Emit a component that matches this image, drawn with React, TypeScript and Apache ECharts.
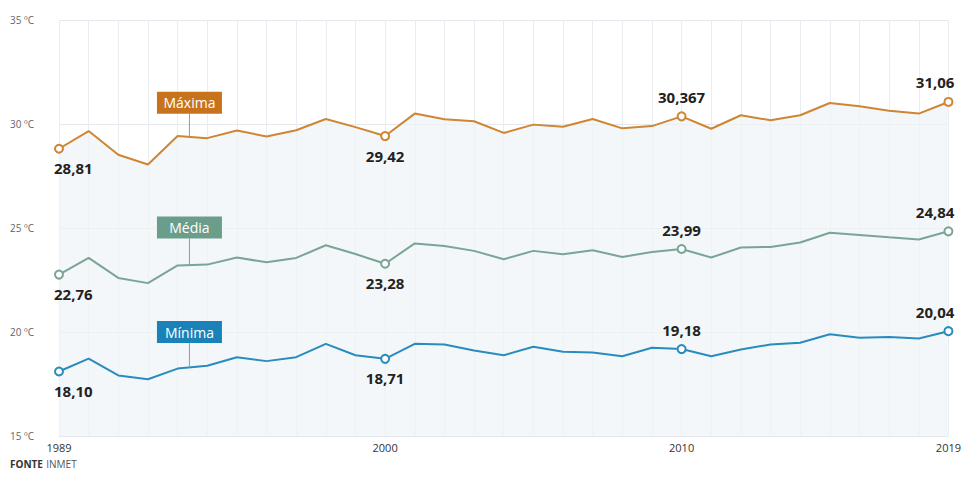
import React, { useEffect, useRef } from "react";
import * as echarts from "echarts";

const years = [
  1989, 1990, 1991, 1992, 1993, 1994, 1995, 1996, 1997, 1998, 1999, 2000, 2001, 2002, 2003, 2004,
  2005, 2006, 2007, 2008, 2009, 2010, 2011, 2012, 2013, 2014, 2015, 2016, 2017, 2018, 2019,
];
const maxima = [
  28.81, 29.66, 28.52, 28.05, 29.42, 29.32, 29.69, 29.4, 29.7, 30.24, 29.85, 29.42, 30.5, 30.23,
  30.13, 29.57, 29.97, 29.87, 30.24, 29.79, 29.9, 30.367, 29.77, 30.42, 30.18, 30.42, 31.01, 30.85,
  30.64, 30.5, 31.06,
];
const media = [
  22.76, 23.56, 22.6, 22.35, 23.2, 23.24, 23.58, 23.35, 23.56, 24.17, 23.75, 23.28, 24.26, 24.13,
  23.9, 23.5, 23.9, 23.74, 23.93, 23.61, 23.85, 23.99, 23.58, 24.06, 24.09, 24.3, 24.77, 24.66,
  24.55, 24.45, 24.84,
];
const minima = [
  18.1, 18.72, 17.91, 17.73, 18.24, 18.38, 18.79, 18.6, 18.79, 19.43, 18.88, 18.71, 19.43, 19.4,
  19.11, 18.88, 19.29, 19.05, 19.01, 18.83, 19.24, 19.18, 18.83, 19.16, 19.4, 19.48, 19.89, 19.72,
  19.76, 19.69, 20.04,
];
const highlightYears = [1989, 2000, 2010, 2019];
const maximaLabels = ["28,81", "29,42", "30,367", "31,06"];
const mediaLabels = ["22,76", "23,28", "23,99", "24,84"];
const minimaLabels = ["18,10", "18,71", "19,18", "20,04"];
const xTickLabels = [1989, 2000, 2010, 2019];
const yTicks = [15, 20, 25, 30, 35];
const seriesNames = ["Máxima", "Média", "Mínima"];
const seriesColors = ["#cf8531", "#7aa596", "#2a8bbf"];
const boxColors = ["#c8731c", "#6a9e8b", "#1a82b8"];
// annotation anchor (year position) and box bottom values
const tagYear = 1993.4;
const tagBottom = [30.49, 24.5, 19.47];

const FONT = "'Open Sans', 'Noto Sans', sans-serif";

function buildData(values: number[], labels: string[], color: string) {
  return years.map((y, i) => {
    const hi = highlightYears.indexOf(y);
    if (hi < 0) return { value: [y, values[i]], symbol: "none" };
    let position: any = "bottom";
    let align: any = "center";
    let offset = [0, 0];
    if (hi === 0) {
      align = "left";
      offset = [-5, 0];
    } else if (hi === 2) {
      position = "top";
    } else if (hi === 3) {
      position = "top";
      align = "right";
      offset = [6, 0];
    }
    return {
      value: [y, values[i]],
      symbol: "circle",
      symbolSize: 8,
      itemStyle: { color: "#ffffff", borderColor: color, borderWidth: 2 },
      label: {
        show: true,
        formatter: labels[hi],
        position,
        align,
        offset,
        distance: 7,
        color: "#222222",
        fontSize: 15,
        fontWeight: "bold",
        fontFamily: FONT,
      },
    };
  });
}

export default function App() {
  const ref = useRef<HTMLDivElement>(null);
  useEffect(() => {
    document.body.style.margin = "0";
    const chart = echarts.init(ref.current!, undefined, { renderer: "svg" });
    const allValues = [maxima, media, minima];
    const allLabels = [maximaLabels, mediaLabels, minimaLabels];
    chart.setOption({
      animation: false,
      backgroundColor: "#ffffff",
      grid: { left: 59, right: 8, top: 20, bottom: 59, containLabel: false },
      xAxis: {
        type: "value",
        min: 1989,
        max: 2019,
        interval: 1,
        axisLine: { show: false },
        axisTick: { show: false },
        splitLine: { show: true, lineStyle: { color: "#e9edf1", width: 1 } },
        axisLabel: {
          formatter: (v: number) => (xTickLabels.indexOf(v) >= 0 ? String(v) : ""),
          color: "#333333",
          fontSize: 11,
          fontFamily: FONT,
          margin: 6,
          showMinLabel: true,
          showMaxLabel: true,
        },
      },
      yAxis: {
        type: "value",
        min: yTicks[0],
        max: yTicks[yTicks.length - 1],
        interval: 5,
        axisLine: { show: false },
        axisTick: { show: false },
        splitLine: { show: true, lineStyle: { color: "#e4e8ec", width: 1 } },
        axisLabel: {
          formatter: (v: number) => `${v} ºC`,
          color: "#666666",
          fontSize: 10,
          fontFamily: FONT,
          align: "left",
          margin: 49,
        },
      },
      series: seriesNames.map((name, k) => ({
        name,
        type: "line",
        data: buildData(allValues[k], allLabels[k], seriesColors[k]),
        lineStyle: { color: seriesColors[k], width: 2 },
        itemStyle: { color: seriesColors[k] },
        areaStyle: k === 0 ? { color: "#eef3f7", opacity: 0.7, origin: "start" } : undefined,
        z: 3 + k,
        emphasis: { disabled: true },
      })),
    });

    const graphics: any[] = [];
    seriesNames.forEach((name, k) => {
      const vals = allValues[k];
      const i0 = years.indexOf(Math.floor(tagYear));
      const t = tagYear - years[i0];
      const lineVal = vals[i0] + (vals[i0 + 1] - vals[i0]) * t;
      const pLine = chart.convertToPixel({ gridIndex: 0 }, [tagYear, lineVal]) as number[];
      const pBox = chart.convertToPixel({ gridIndex: 0 }, [tagYear, tagBottom[k]]) as number[];
      const w = 65;
      const h = 22;
      graphics.push({
        type: "line",
        shape: { x1: pLine[0], y1: pBox[1], x2: pLine[0], y2: pLine[1] },
        style: { stroke: "#9a9a9a", lineWidth: 1 },
        z: 10,
      });
      graphics.push({
        type: "rect",
        shape: { x: pBox[0] - w / 2, y: pBox[1] - h, width: w, height: h },
        style: { fill: boxColors[k] },
        z: 11,
      });
      graphics.push({
        type: "text",
        x: pBox[0],
        y: pBox[1] - h / 2,
        style: {
          text: name,
          fill: "#ffffff",
          fontSize: 14,
          fontFamily: FONT,
          align: "center",
          verticalAlign: "middle",
        },
        z: 12,
      });
    });
    graphics.push({
      type: "text",
      left: 10,
      top: 458,
      style: {
        text: "{b|FONTE} {r|INMET}",
        rich: {
          b: { fontSize: 10, fontWeight: "bold", fill: "#333333", fontFamily: FONT },
          r: { fontSize: 10, fill: "#555555", fontFamily: FONT },
        },
      },
    });
    chart.setOption({ graphic: graphics });
    return () => chart.dispose();
  }, []);
  return <div ref={ref} style={{ width: 964, height: 495 }} />;
}
